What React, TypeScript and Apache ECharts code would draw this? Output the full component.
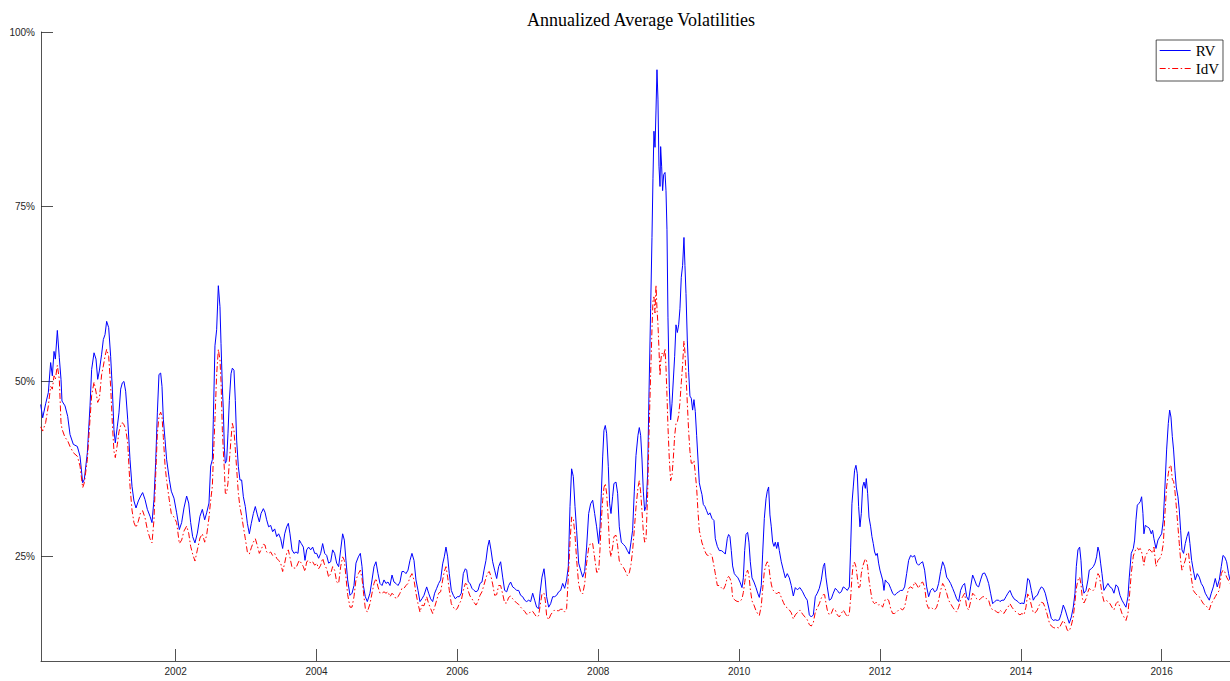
import React, { useEffect, useRef } from "react";
import * as echarts from "echarts";

// Annualized average realized volatility (RV) and idiosyncratic volatility (IdV), in percent.
// Sample dates are decimal years.

const yearsA = [2000.083, 2000.112, 2000.154, 2000.192, 2000.225, 2000.249, 2000.273, 2000.292, 2000.320, 2000.348, 2000.372, 2000.386, 2000.429, 2000.467, 2000.500, 2000.547, 2000.604, 2000.642, 2000.680, 2000.703, 2000.746, 2000.784, 2000.807, 2000.841, 2000.869, 2000.893, 2000.916, 2000.949, 2000.973, 2000.997, 2001.020, 2001.049, 2001.077, 2001.101, 2001.124, 2001.143, 2001.172, 2001.195, 2001.219, 2001.243, 2001.266, 2001.290, 2001.319, 2001.352, 2001.380, 2001.408, 2001.437, 2001.470, 2001.503, 2001.531, 2001.565, 2001.598, 2001.636, 2001.664, 2001.692, 2001.716, 2001.740, 2001.763, 2001.787, 2001.806, 2001.825, 2001.849, 2001.872, 2001.910, 2001.938, 2001.976, 2002.014, 2002.052, 2002.085, 2002.118, 2002.156, 2002.185, 2002.213, 2002.241, 2002.274, 2002.308, 2002.345, 2002.379, 2002.412, 2002.440, 2002.473, 2002.497, 2002.521, 2002.535, 2002.558, 2002.582, 2002.606];
const rvA = [46.7, 44.8, 46.8, 48.4, 52.7, 50.8, 54.3, 53.2, 57.3, 53.4, 50.3, 47.2, 46.5, 45.0, 42.4, 41.0, 40.7, 39.3, 35.5, 36.0, 39.8, 46.5, 51.7, 54.1, 53.2, 50.3, 51.5, 53.9, 56.0, 56.7, 58.6, 57.7, 53.6, 48.9, 43.1, 41.2, 43.6, 45.5, 48.9, 49.8, 50.0, 48.6, 44.6, 38.8, 35.0, 32.9, 31.9, 32.9, 33.6, 34.1, 33.1, 31.7, 30.7, 29.8, 33.1, 38.4, 45.5, 51.0, 51.2, 49.3, 44.6, 41.7, 38.8, 36.0, 34.3, 33.3, 31.2, 28.8, 29.8, 31.9, 33.6, 32.6, 29.8, 27.8, 26.9, 28.3, 30.7, 31.7, 30.2, 31.2, 32.6, 37.9, 38.8, 44.6, 55.1, 57.4, 63.7];
const idvA = [43.5, 42.9, 44.1, 46.5, 49.3, 48.9, 50.8, 50.3, 52.3, 50.3, 44.1, 43.2, 42.0, 41.5, 40.7, 39.8, 39.3, 37.9, 34.8, 35.5, 38.8, 44.6, 48.0, 49.9, 48.5, 47.0, 47.5, 51.0, 52.2, 53.6, 54.6, 53.6, 49.3, 44.0, 40.0, 39.1, 41.0, 42.8, 43.7, 44.1, 43.8, 43.2, 41.2, 35.0, 31.6, 29.8, 29.1, 30.0, 31.3, 31.5, 30.5, 28.8, 27.5, 26.9, 30.2, 36.5, 42.5, 45.0, 45.6, 45.0, 42.0, 38.0, 35.8, 33.0, 31.1, 30.6, 29.8, 26.8, 27.3, 28.6, 29.3, 28.3, 26.4, 25.3, 24.3, 25.9, 27.6, 28.2, 27.0, 28.0, 30.5, 33.0, 35.0, 39.0, 44.6, 51.0, 54.6];

const yearsB = [2002.629, 2002.644, 2002.663, 2002.677, 2002.691, 2002.705, 2002.724, 2002.743, 2002.762, 2002.786, 2002.805, 2002.828, 2002.847, 2002.866, 2002.890, 2002.913, 2002.937, 2002.961, 2002.989, 2003.018, 2003.046, 2003.074, 2003.103, 2003.131, 2003.160, 2003.188, 2003.212, 2003.245, 2003.268, 2003.292, 2003.320, 2003.349, 2003.377, 2003.406, 2003.434, 2003.462, 2003.491, 2003.519, 2003.548, 2003.576, 2003.600, 2003.623, 2003.652, 2003.680, 2003.709, 2003.737, 2003.756, 2003.784, 2003.813, 2003.836, 2003.860, 2003.888, 2003.917, 2003.945, 2003.974, 2004.002, 2004.030, 2004.059, 2004.087, 2004.116, 2004.144, 2004.172, 2004.201, 2004.229, 2004.257, 2004.286, 2004.314, 2004.343, 2004.371, 2004.395, 2004.418, 2004.442, 2004.475, 2004.504, 2004.532, 2004.560, 2004.594, 2004.622, 2004.646, 2004.665, 2004.693, 2004.721, 2004.759, 2004.788, 2004.816, 2004.844, 2004.873, 2004.901, 2004.930, 2004.958, 2004.986, 2005.015, 2005.043, 2005.072, 2005.100, 2005.128, 2005.157, 2005.185, 2005.213, 2005.242, 2005.270, 2005.299, 2005.327, 2005.355, 2005.384, 2005.412, 2005.441];
const rvB = [60.7, 55.4, 49.2, 45.9, 40.6, 38.3, 38.7, 42.6, 47.3, 51.1, 51.9, 51.6, 47.3, 41.6, 37.8, 35.9, 35.9, 33.5, 32.1, 29.7, 28.2, 29.7, 31.1, 32.1, 30.9, 29.9, 31.1, 31.8, 31.3, 30.2, 29.2, 29.4, 28.5, 28.9, 27.8, 28.2, 27.5, 26.1, 28.2, 29.2, 29.7, 28.2, 25.9, 25.4, 25.6, 25.4, 27.3, 26.8, 26.3, 24.4, 25.9, 26.3, 25.9, 26.3, 25.4, 25.4, 24.7, 25.4, 26.8, 25.4, 25.1, 24.0, 24.2, 25.9, 25.4, 24.0, 23.5, 25.9, 28.2, 27.3, 24.4, 21.6, 19.4, 19.7, 20.8, 24.0, 24.9, 25.4, 23.5, 20.8, 19.2, 18.5, 19.7, 21.6, 23.5, 24.2, 22.5, 21.1, 20.8, 21.6, 21.1, 21.3, 20.8, 22.3, 21.3, 21.1, 20.8, 21.3, 22.8, 22.8, 22.5, 23.0, 24.4, 25.4, 24.4, 21.6, 20.1];
const idvB = [53.1, 50.0, 43.0, 40.0, 37.5, 34.0, 34.0, 35.5, 38.5, 41.8, 44.0, 43.0, 40.3, 37.5, 34.0, 32.0, 30.8, 29.2, 27.5, 25.6, 25.3, 26.2, 27.0, 27.5, 26.5, 25.4, 25.9, 26.7, 26.6, 25.6, 25.4, 25.6, 25.1, 25.4, 24.7, 24.4, 24.0, 22.8, 24.0, 25.4, 25.9, 24.8, 23.4, 23.3, 23.3, 24.0, 24.4, 24.0, 23.5, 22.8, 24.2, 24.4, 24.0, 24.2, 23.7, 24.0, 23.2, 23.7, 24.7, 23.7, 23.2, 22.0, 22.5, 23.5, 23.0, 21.3, 21.1, 23.5, 24.9, 24.4, 22.0, 19.5, 17.7, 17.7, 19.2, 21.6, 22.5, 23.0, 21.8, 20.0, 17.5, 17.0, 18.2, 19.7, 21.1, 21.8, 20.6, 19.7, 19.7, 19.9, 19.7, 19.9, 19.2, 19.7, 19.4, 18.9, 19.2, 19.7, 20.4, 20.4, 20.8, 21.1, 22.0, 22.5, 21.6, 19.7, 18.2];

const yearsC = [2005.469, 2005.497, 2005.526, 2005.564, 2005.592, 2005.620, 2005.649, 2005.677, 2005.706, 2005.734, 2005.762, 2005.791, 2005.814, 2005.838, 2005.862, 2005.885, 2005.914, 2005.942, 2005.971, 2005.999, 2006.027, 2006.056, 2006.084, 2006.113, 2006.132, 2006.155, 2006.179, 2006.207, 2006.236, 2006.264, 2006.292, 2006.321, 2006.349, 2006.378, 2006.406, 2006.430, 2006.453, 2006.477, 2006.501, 2006.529, 2006.558, 2006.586, 2006.614, 2006.643, 2006.671, 2006.700, 2006.728, 2006.756, 2006.785, 2006.813, 2006.841, 2006.870, 2006.898, 2006.927, 2006.955, 2006.983, 2007.012, 2007.040, 2007.069, 2007.097, 2007.125, 2007.154, 2007.173, 2007.201, 2007.230, 2007.248, 2007.267, 2007.296, 2007.324, 2007.353, 2007.381, 2007.409, 2007.438, 2007.466, 2007.495, 2007.523, 2007.551, 2007.575, 2007.599, 2007.622, 2007.646, 2007.670, 2007.693, 2007.722, 2007.750, 2007.779, 2007.807, 2007.835, 2007.864, 2007.892, 2007.921, 2007.949, 2007.977, 2008.006, 2008.025, 2008.044, 2008.063, 2008.081, 2008.100, 2008.119, 2008.143, 2008.162, 2008.181, 2008.204, 2008.223, 2008.252, 2008.275, 2008.299];
const rvC = [18.5, 18.9, 19.4, 20.6, 19.7, 18.9, 18.5, 19.7, 20.4, 21.1, 21.6, 23.9, 24.9, 26.3, 24.9, 22.5, 20.1, 19.4, 18.9, 19.2, 19.2, 19.7, 22.5, 23.2, 23.0, 21.3, 21.1, 20.4, 20.1, 19.9, 20.1, 21.1, 21.3, 23.0, 24.4, 26.3, 27.3, 25.9, 24.2, 23.0, 21.8, 23.5, 24.2, 22.0, 20.1, 19.9, 20.8, 21.3, 20.6, 20.4, 20.1, 20.1, 19.4, 19.2, 18.7, 18.5, 18.7, 18.5, 19.7, 18.7, 17.7, 17.5, 19.7, 22.0, 23.2, 21.6, 19.2, 17.7, 18.2, 19.2, 19.2, 19.4, 19.9, 20.1, 21.1, 20.4, 21.6, 23.5, 32.1, 37.5, 36.4, 32.1, 28.7, 24.0, 23.0, 22.0, 22.8, 26.3, 31.1, 32.5, 33.0, 31.1, 29.2, 26.8, 29.2, 34.0, 39.2, 43.0, 43.7, 42.6, 37.8, 32.5, 31.1, 33.5, 35.4, 35.6, 34.0, 29.2];
const idvC = [17.0, 18.0, 17.9, 19.2, 18.2, 17.5, 16.8, 17.7, 18.7, 19.7, 19.9, 21.6, 22.8, 23.5, 22.0, 20.1, 18.2, 17.7, 17.3, 17.5, 18.2, 18.7, 20.1, 21.1, 21.0, 20.0, 19.3, 18.9, 18.4, 18.0, 18.5, 19.4, 19.9, 20.9, 21.9, 22.6, 22.8, 22.1, 21.0, 19.4, 19.5, 20.8, 20.8, 19.6, 18.3, 18.3, 19.1, 19.3, 18.9, 18.6, 18.3, 18.1, 17.7, 17.4, 17.1, 16.7, 16.7, 17.1, 17.1, 16.7, 16.3, 16.5, 17.8, 19.6, 19.7, 18.7, 16.5, 15.9, 16.6, 17.0, 17.3, 17.2, 17.2, 17.4, 17.4, 17.0, 17.5, 22.0, 27.0, 30.6, 30.4, 28.0, 24.5, 21.0, 19.9, 19.6, 21.0, 24.0, 26.2, 26.9, 26.8, 24.8, 22.7, 22.8, 26.0, 30.2, 33.0, 34.8, 35.4, 34.0, 30.2, 26.0, 24.9, 26.3, 27.8, 28.0, 26.5, 24.3];

const yearsD = [2008.328, 2008.356, 2008.384, 2008.413, 2008.441, 2008.465, 2008.488, 2008.512, 2008.536, 2008.564, 2008.583, 2008.602, 2008.621, 2008.640, 2008.659, 2008.678, 2008.701, 2008.720, 2008.744, 2008.763, 2008.777, 2008.791, 2008.806, 2008.820, 2008.834, 2008.848, 2008.862, 2008.877, 2008.886, 2008.900, 2008.914, 2008.929, 2008.948, 2008.962, 2008.976, 2008.990, 2009.009, 2009.028, 2009.047, 2009.066, 2009.085, 2009.104, 2009.123, 2009.142, 2009.160, 2009.179, 2009.198, 2009.217, 2009.231, 2009.246, 2009.265, 2009.284, 2009.302, 2009.321, 2009.340, 2009.359, 2009.378, 2009.397, 2009.416, 2009.435, 2009.454, 2009.473, 2009.492, 2009.515, 2009.539, 2009.563, 2009.586, 2009.615, 2009.643, 2009.662, 2009.691, 2009.719, 2009.747, 2009.776, 2009.804, 2009.832, 2009.851, 2009.870, 2009.889, 2009.908, 2009.932, 2009.956, 2009.984, 2010.012, 2010.041, 2010.060, 2010.079, 2010.098, 2010.121, 2010.140, 2010.159, 2010.183, 2010.211, 2010.240, 2010.268, 2010.287, 2010.315, 2010.334, 2010.358, 2010.382, 2010.400, 2010.419, 2010.438, 2010.457, 2010.476, 2010.495, 2010.514, 2010.533, 2010.552, 2010.571, 2010.599, 2010.628, 2010.656, 2010.684, 2010.713, 2010.741, 2010.770, 2010.798, 2010.826];
const rvD = [27.0, 26.7, 26.4, 25.8, 25.3, 27.0, 28.7, 34.3, 39.4, 42.3, 43.4, 42.3, 38.9, 34.3, 31.5, 32.1, 36.6, 47.9, 60.4, 70.6, 79.0, 85.8, 83.5, 88.7, 94.6, 90.4, 80.8, 77.9, 83.6, 80.8, 77.3, 79.6, 79.9, 77.3, 71.7, 59.2, 49.1, 44.5, 46.8, 50.2, 53.6, 58.1, 57.0, 58.1, 60.4, 64.9, 66.6, 70.6, 66.6, 62.6, 55.8, 51.3, 47.9, 47.6, 45.9, 47.4, 45.7, 42.3, 38.9, 35.5, 34.6, 33.8, 32.4, 32.1, 31.5, 30.9, 31.2, 30.4, 30.1, 27.5, 26.4, 25.8, 25.8, 25.6, 25.3, 27.5, 28.1, 27.8, 25.8, 23.6, 22.5, 22.2, 21.9, 21.3, 20.5, 21.9, 25.8, 28.1, 28.4, 27.0, 24.2, 21.9, 21.3, 20.5, 19.6, 19.1, 20.8, 25.3, 30.4, 33.2, 34.3, 34.9, 30.9, 29.2, 27.0, 26.4, 27.0, 26.1, 27.0, 25.8, 24.2, 23.0, 21.9, 22.5, 21.9, 20.8, 19.3, 20.5, 20.2];
const idvD = [23.8, 23.4, 22.9, 22.2, 22.6, 23.8, 25.8, 28.8, 32.0, 34.8, 35.8, 34.2, 31.5, 28.5, 27.0, 27.3, 33.8, 42.3, 51.0, 57.5, 61.5, 62.1, 59.8, 63.8, 60.4, 58.1, 54.7, 50.8, 52.7, 54.0, 54.0, 53.6, 54.7, 52.0, 48.0, 43.5, 38.9, 35.8, 36.5, 39.0, 42.2, 44.0, 44.2, 45.2, 47.0, 49.8, 52.4, 55.8, 54.2, 51.0, 46.8, 42.8, 40.0, 38.3, 38.3, 38.7, 36.8, 34.8, 31.4, 28.7, 27.8, 26.9, 26.4, 25.7, 25.2, 25.1, 25.4, 25.1, 23.6, 22.5, 20.8, 20.8, 20.5, 20.2, 20.8, 21.9, 22.1, 21.8, 21.3, 19.1, 18.8, 18.6, 18.5, 18.5, 18.9, 19.8, 21.2, 22.5, 23.0, 22.2, 20.3, 18.6, 18.0, 17.2, 16.7, 16.5, 17.9, 20.2, 22.8, 23.8, 24.2, 23.8, 22.2, 21.0, 20.2, 20.0, 19.8, 19.6, 19.8, 19.8, 19.1, 18.4, 17.8, 17.6, 17.3, 16.9, 16.0, 16.6, 16.9];

const yearsE = [2010.864, 2010.902, 2010.935, 2010.968, 2010.997, 2011.025, 2011.054, 2011.082, 2011.110, 2011.139, 2011.167, 2011.195, 2011.214, 2011.233, 2011.252, 2011.281, 2011.309, 2011.337, 2011.366, 2011.394, 2011.423, 2011.451, 2011.479, 2011.508, 2011.536, 2011.565, 2011.584, 2011.602, 2011.621, 2011.640, 2011.659, 2011.678, 2011.697, 2011.716, 2011.735, 2011.754, 2011.773, 2011.792, 2011.806, 2011.825, 2011.844, 2011.868, 2011.886, 2011.905, 2011.924, 2011.943, 2011.962, 2011.981, 2012.000, 2012.019, 2012.038, 2012.057, 2012.076, 2012.095, 2012.123, 2012.152, 2012.180, 2012.208, 2012.237, 2012.265, 2012.293, 2012.322, 2012.350, 2012.379, 2012.407, 2012.435, 2012.464, 2012.492, 2012.521, 2012.549, 2012.577, 2012.606, 2012.634, 2012.663, 2012.691, 2012.719, 2012.748, 2012.776, 2012.805, 2012.833, 2012.861, 2012.890, 2012.918, 2012.947, 2012.975, 2013.003, 2013.032, 2013.060, 2013.089, 2013.117, 2013.145, 2013.174, 2013.202, 2013.231, 2013.259, 2013.287, 2013.316, 2013.344, 2013.373, 2013.401, 2013.429, 2013.458, 2013.486, 2013.514, 2013.543, 2013.571, 2013.600, 2013.628, 2013.656, 2013.685];
const rvE = [20.5, 19.9, 19.2, 18.7, 16.6, 16.3, 16.6, 19.2, 19.7, 20.4, 21.6, 23.5, 24.0, 22.0, 20.6, 18.7, 18.9, 19.7, 20.4, 20.1, 19.7, 19.9, 20.6, 20.4, 20.1, 20.6, 26.3, 32.5, 34.9, 37.3, 38.0, 36.8, 32.1, 29.2, 31.1, 34.9, 35.6, 34.7, 36.1, 34.0, 30.6, 29.2, 27.8, 26.8, 25.6, 25.1, 25.4, 24.0, 23.0, 22.3, 21.6, 20.1, 21.6, 21.3, 21.1, 20.4, 19.7, 19.4, 19.7, 19.9, 20.1, 20.1, 20.6, 22.5, 24.4, 25.1, 24.9, 25.1, 24.0, 23.7, 24.0, 24.2, 23.0, 20.6, 19.2, 20.1, 20.4, 19.9, 20.1, 21.1, 22.8, 24.2, 23.5, 22.0, 21.6, 21.1, 20.4, 19.7, 18.9, 18.5, 20.1, 20.8, 21.1, 19.2, 18.7, 20.6, 22.3, 21.6, 20.8, 20.6, 21.6, 22.5, 22.6, 22.0, 21.1, 19.7, 18.2, 18.5, 18.7, 18.7];
const idvE = [17.3, 16.7, 16.3, 15.9, 15.2, 15.0, 15.5, 17.0, 17.6, 18.2, 19.0, 19.5, 19.5, 18.3, 17.3, 16.6, 16.8, 17.5, 17.3, 16.6, 16.3, 16.8, 17.3, 16.8, 16.3, 16.8, 19.0, 22.0, 24.0, 24.1, 23.5, 22.0, 20.5, 20.6, 22.5, 23.5, 24.1, 24.6, 24.5, 23.5, 21.6, 20.0, 18.9, 18.4, 18.2, 18.4, 18.3, 18.0, 18.1, 18.0, 17.7, 18.3, 18.8, 18.9, 18.7, 17.5, 16.8, 16.8, 17.0, 17.3, 17.5, 17.3, 17.7, 19.2, 20.4, 20.6, 20.4, 21.3, 20.9, 20.4, 21.1, 21.3, 20.6, 18.2, 17.5, 17.7, 17.5, 17.3, 17.7, 18.7, 20.1, 21.1, 20.6, 19.7, 18.7, 18.2, 17.7, 17.3, 17.0, 17.7, 18.7, 19.2, 19.7, 17.7, 17.3, 18.5, 19.7, 19.4, 18.9, 18.7, 18.9, 19.2, 19.2, 18.9, 18.7, 17.7, 17.3, 17.3, 17.0, 16.9];

const yearsF = [2013.704, 2013.732, 2013.761, 2013.789, 2013.817, 2013.846, 2013.874, 2013.903, 2013.931, 2013.959, 2013.988, 2014.016, 2014.045, 2014.073, 2014.097, 2014.120, 2014.149, 2014.177, 2014.205, 2014.234, 2014.262, 2014.291, 2014.319, 2014.347, 2014.376, 2014.404, 2014.433, 2014.461, 2014.489, 2014.518, 2014.546, 2014.575, 2014.603, 2014.631, 2014.660, 2014.688, 2014.717, 2014.745, 2014.769, 2014.788, 2014.811, 2014.835, 2014.854, 2014.873, 2014.896, 2014.925, 2014.953, 2014.972, 2015.001, 2015.029, 2015.053, 2015.076, 2015.095, 2015.114, 2015.133, 2015.152, 2015.180, 2015.209, 2015.237, 2015.266, 2015.294, 2015.322, 2015.351, 2015.379, 2015.408, 2015.436, 2015.464, 2015.493, 2015.521, 2015.540, 2015.568, 2015.597, 2015.616, 2015.635, 2015.654, 2015.673, 2015.696, 2015.715, 2015.734, 2015.748, 2015.767, 2015.796, 2015.824, 2015.852, 2015.871, 2015.890, 2015.919, 2015.947, 2015.975, 2015.999, 2016.023, 2016.046, 2016.070, 2016.094, 2016.113, 2016.132, 2016.151, 2016.169, 2016.188, 2016.207, 2016.231, 2016.250, 2016.269, 2016.288, 2016.311, 2016.335, 2016.359, 2016.382, 2016.401, 2016.425, 2016.449, 2016.477, 2016.505, 2016.534, 2016.562, 2016.591, 2016.619, 2016.647, 2016.676, 2016.704, 2016.733, 2016.761, 2016.789, 2016.818, 2016.846, 2016.870, 2016.894, 2016.922, 2016.950, 2016.969];
const rvF = [18.5, 18.7, 18.7, 19.2, 19.7, 20.1, 19.4, 18.9, 18.7, 18.5, 18.2, 18.3, 18.2, 19.7, 21.8, 21.6, 20.1, 18.7, 19.2, 19.4, 20.1, 20.6, 20.4, 19.7, 18.5, 17.3, 16.1, 15.8, 15.9, 15.8, 15.9, 16.8, 18.0, 17.3, 16.3, 15.4, 16.3, 17.7, 19.7, 23.5, 25.9, 26.3, 24.4, 21.1, 19.7, 20.1, 21.6, 23.0, 23.2, 23.5, 24.0, 24.9, 26.3, 25.6, 24.0, 22.5, 20.1, 20.6, 21.1, 20.6, 20.4, 19.7, 20.9, 20.6, 19.4, 18.7, 18.2, 17.7, 19.2, 22.0, 25.4, 26.1, 27.3, 30.2, 32.3, 32.5, 32.8, 33.5, 31.1, 28.2, 29.4, 29.2, 29.0, 28.2, 28.7, 27.5, 26.1, 27.3, 27.8, 28.2, 30.2, 34.9, 40.2, 44.0, 45.9, 44.9, 42.1, 40.2, 37.3, 34.9, 33.5, 31.6, 28.7, 25.9, 25.4, 26.8, 27.8, 28.5, 26.8, 24.4, 23.0, 21.6, 22.5, 22.0, 21.1, 20.6, 19.7, 19.2, 18.7, 19.7, 20.6, 21.8, 20.6, 21.6, 23.5, 25.1, 24.9, 24.2, 22.5, 21.6];
const idvF = [17.3, 17.0, 16.8, 17.3, 17.7, 18.2, 17.7, 17.3, 17.0, 16.8, 16.6, 16.8, 16.6, 17.7, 19.6, 19.2, 18.0, 16.9, 16.9, 17.3, 18.0, 18.4, 18.3, 17.6, 16.6, 15.5, 15.0, 14.8, 14.7, 14.8, 14.7, 15.3, 15.8, 15.3, 14.4, 14.3, 15.1, 16.3, 18.5, 20.4, 21.6, 22.0, 21.0, 19.0, 18.3, 18.9, 19.9, 20.4, 20.1, 20.1, 20.4, 21.8, 22.5, 22.2, 21.0, 19.7, 18.5, 18.7, 18.5, 18.2, 17.7, 17.3, 18.2, 18.5, 17.7, 16.8, 16.3, 15.8, 16.8, 19.0, 22.5, 25.0, 25.6, 26.0, 26.2, 25.9, 26.1, 25.6, 24.5, 23.7, 25.0, 25.5, 26.0, 25.7, 25.4, 26.3, 23.5, 24.4, 24.7, 25.3, 26.8, 31.1, 34.9, 36.8, 38.0, 37.9, 36.0, 35.7, 34.3, 32.2, 29.2, 26.8, 24.4, 23.0, 23.7, 24.4, 25.5, 25.4, 23.5, 21.6, 20.1, 19.7, 19.4, 19.2, 18.7, 18.2, 18.0, 17.7, 17.3, 18.2, 18.7, 19.2, 19.7, 20.1, 22.5, 23.0, 22.8, 22.0, 21.5, 21.1];

const years = [...yearsA, ...yearsB, ...yearsC, ...yearsD, ...yearsE, ...yearsF];
const rv = [...rvA, ...rvB, ...rvC, ...rvD, ...rvE, ...rvF];
const idv = [...idvA, ...idvB, ...idvC, ...idvD, ...idvE, ...idvF];

const yTicks = [25, 50, 75, 100];
const xTicks = [2002, 2004, 2006, 2008, 2010, 2012, 2014, 2016];

const axisColor = "#262626";
const tickFont = "'Liberation Sans', Arial, Helvetica, sans-serif";
const serifFont = "'Liberation Serif', 'Times New Roman', serif";

export default function App() {
  const ref = useRef<HTMLDivElement>(null);

  useEffect(() => {
    if (!ref.current) return;
    const chart = echarts.init(ref.current, null, { renderer: "svg" });
    chart.setOption({
      animation: false,
      backgroundColor: "#ffffff",
      title: {
        text: "Annualized Average Volatilities",
        left: 636,
        top: 6,
        textAlign: "center",
        textStyle: {
          fontFamily: serifFont,
          fontSize: 18,
          fontWeight: "normal",
          color: "#000000",
        },
      },
      legend: {
        orient: "vertical",
        right: 7,
        top: 40,
        data: ["RV", "IdV"],
        backgroundColor: "#ffffff",
        borderColor: axisColor,
        borderWidth: 0.8,
        borderRadius: 0,
        padding: [3, 4, 5, 3],
        itemGap: 3,
        itemWidth: 31,
        itemHeight: 15,
        // line-only keys: the marker drawn on top of each key line is hidden
        itemStyle: { opacity: 0 },
        lineStyle: { width: 1 },
        textStyle: { fontFamily: serifFont, fontSize: 15, color: "#000000" },
      },
      grid: { left: 41, top: 32, width: 1189, height: 629, containLabel: false },
      xAxis: {
        type: "value",
        min: 2000.088,
        max: 2016.97,
        axisLine: { show: true, lineStyle: { color: axisColor, width: 0.8 } },
        axisTick: {
          show: true,
          inside: true,
          length: 12,
          customValues: xTicks,
          lineStyle: { color: axisColor, width: 0.8 },
        },
        axisLabel: {
          customValues: xTicks,
          formatter: (v: number) => String(v),
          margin: 5,
          fontFamily: tickFont,
          fontSize: 10,
          color: axisColor,
        },
        splitLine: { show: false },
      },
      yAxis: {
        type: "value",
        min: 10,
        max: 100,
        axisLine: { show: true, lineStyle: { color: axisColor, width: 0.8 } },
        axisTick: {
          show: true,
          inside: true,
          length: 12,
          customValues: yTicks,
          lineStyle: { color: axisColor, width: 0.8 },
        },
        axisLabel: {
          customValues: yTicks,
          formatter: (v: number) => v + "%",
          margin: 6,
          fontFamily: tickFont,
          fontSize: 10,
          color: axisColor,
        },
        splitLine: { show: false },
      },
      series: [
        {
          name: "RV",
          type: "line",
          data: years.map((t, i) => [t, rv[i]]),
          symbol: "none",
          showSymbol: false,
          clip: true,
          lineStyle: { color: "#0000ff", width: 1 },
          itemStyle: { color: "#0000ff" },
          emphasis: { disabled: true },
          silent: true,
          z: 2,
        },
        {
          name: "IdV",
          type: "line",
          data: years.map((t, i) => [t, idv[i]]),
          symbol: "none",
          showSymbol: false,
          clip: true,
          lineStyle: { color: "#ff0000", width: 1, type: [6, 2.5, 1.5, 2.5] },
          itemStyle: { color: "#ff0000" },
          emphasis: { disabled: true },
          silent: true,
          z: 3,
        },
      ],
    });
    return () => chart.dispose();
  }, []);

  return (
    <div
      ref={ref}
      style={{ position: "absolute", left: 0, top: 0, width: 1230, height: 681, background: "#ffffff" }}
    />
  );
}
